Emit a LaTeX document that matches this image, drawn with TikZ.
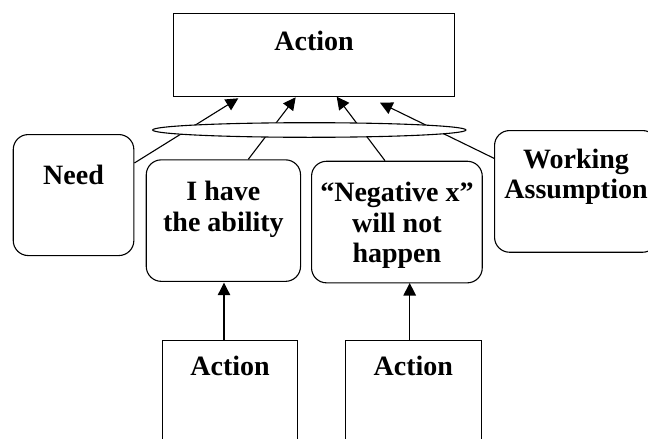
\documentclass[tikz,border=0pt]{standalone}
\usepackage{fontspec}
\setmainfont{Liberation Serif}
\usetikzlibrary{arrows.meta,shapes.geometric}
\begin{document}
\begin{tikzpicture}[x=1pt,y=-1pt,
  line width=1.1pt,
  every node/.style={inner sep=0pt},
  box/.style={draw, rectangle, anchor=north west},
  rbox/.style={draw, rectangle, rounded corners=15pt, anchor=north west},
  lbl/.style={anchor=base, font=\fontsize{28}{30.5}\selectfont\bfseries},
  arr/.style={-{Triangle[length=12.5pt,width=12.5pt]}}
]
\clip (0,0) rectangle (648,439);

% boxes
\node[box, minimum width=281pt, minimum height=83pt] (top) at (173,13) {};
\node[rbox, minimum width=120.6pt, minimum height=121pt] (need) at (12.7,134) {};
\node[rbox, minimum width=154.3pt, minimum height=121.5pt] (have) at (145.7,159.3) {};
\node[rbox, minimum width=170.7pt, minimum height=121.6pt] (neg) at (311,160.7) {};
\node[rbox, minimum width=163pt, minimum height=121.7pt] (work) at (494,130) {};
\node[box, minimum width=134.4pt, minimum height=120pt] (actL) at (162.3,340) {};
\node[box, minimum width=135.7pt, minimum height=120pt] (actR) at (345,340) {};

% labels
\node[lbl] (ttop) at (top.north |- 0,50.7) {Action};
\node[lbl] (tneed) at (need.north |- 0,184) {Need};
\node[lbl] (thave1) at (have.north |- 0,200.7) {I have};
\node[lbl] (thave2) at (have.north |- 0,231.7) {the ability};
\begin{scope}
  \clip (311,160) rectangle (482,268.3);
  \node[lbl] (tneg1) at (neg.north |- 0,201.5) {“Negative x”};
  \node[lbl] (tneg2) at (neg.north |- 0,232) {will not};
  \node[lbl] (tneg3) at (neg.north |- 0,262.5) {happen};
\end{scope}
\node[lbl] (twork1) at (work.north |- 0,168.3) {Working};
\node[lbl] (twork2) at (work.north |- 0,198.5) {Assumption};
\node[lbl] (tactL) at (actL.north |- 0,375) {Action};
\node[lbl] (tactR) at (actR.north |- 0,375) {Action};

% ends of the converging arrows
\coordinate (s1) at (need.east |- 0,163);
\coordinate (s2) at (248.3,159.3);
\coordinate (s3) at (385,160.7);
\coordinate (s4) at (work.west |- 0,158.3);
\coordinate (e1) at (238.3,98.3);
\coordinate (e2) at (295.7,97.3);
\coordinate (e3) at (336.7,96.7);
\coordinate (e4) at (380,102.7);

\draw[arr] (s1) -- (e1);
\draw[arr] (s2) -- (e2);
\draw[arr] (s3) -- (e3);
\draw[arr] (s4) -- (e4);

% conjunction ellipse over the arrows
\node[draw, ellipse, fill=white, minimum width=313.3pt, minimum height=14.6pt] (conj) at (309.3,130) {};

% lower supports
\coordinate (b1) at (224,340);
\coordinate (h1) at (224,282.7);
\coordinate (b2) at (409.7,340);
\coordinate (h2) at (409.7,283);
\draw[arr] (b1) -- (h1);
\draw[arr] (b2) -- (h2);
\end{tikzpicture}
\end{document}
